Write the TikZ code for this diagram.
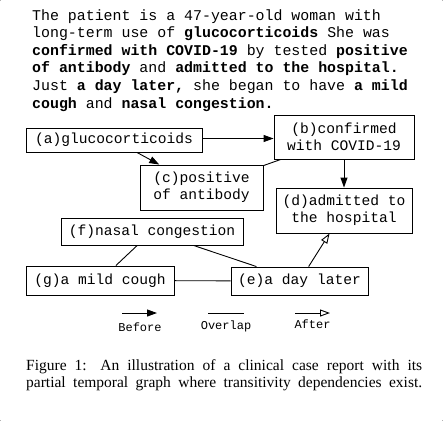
\documentclass[tikz,border=0pt]{standalone}
\usepackage{fontspec}
\setmonofont{Liberation Mono}
\newfontfamily\capfont{Liberation Serif}
\usetikzlibrary{arrows.meta}

\begin{document}
\begin{tikzpicture}[x=1pt,y=1pt,
  txt/.style={anchor=base west,inner sep=0pt,font=\fontsize{14.9}{17.6}\selectfont\ttfamily},
  evt/.style={draw,line width=0.9pt,align=center,inner sep=0pt,font=\fontsize{14.6}{17.2}\selectfont\ttfamily},
  beforearr/.style={line width=0.9pt,-{Triangle[length=10pt,width=7pt]}},
  overlapline/.style={line width=0.9pt},
  afterarr/.style={line width=0.9pt,-{Triangle[open,length=10pt,width=7pt]}},
  legtxt/.style={inner sep=0pt,font=\fontsize{12}{14}\selectfont\ttfamily},
  captxt/.style={anchor=base west,inner sep=0pt,font=\fontsize{15.5}{17}\selectfont\capfont}]
\useasboundingbox (0,0) rectangle (443,-421);
% page corners, so the margins are kept
\fill[black!30] (0,0) rectangle (1,-1);
\fill[black!30] (442,0) rectangle (443,-1);
\fill[black!30] (0,-420) rectangle (1,-421);
\fill[black!30] (442,-420) rectangle (443,-421);

\node[txt] at (32,-20) {The patient is a 47-year-old woman with};
\node[txt] at (32,-37.6) {long-term use of \textbf{glucocorticoids} She was};
\node[txt] at (32,-55.2) {\textbf{confirmed with COVID-19} by tested \textbf{positive}};
\node[txt] at (32,-72.8) {\textbf{of antibody} and \textbf{admitted to the hospital.}};
\node[txt] at (32,-90.4) {Just \textbf{a day later,} she began to have \textbf{a mild}};
\node[txt] at (32,-108) {\textbf{cough} and \textbf{nasal congestion.}};

\node[evt,minimum width=176pt,minimum height=24pt] (a) at (114,-140) {(a)glucocorticoids};
\node[evt,minimum width=140pt,minimum height=44pt] (b) at (344,-137) {(b)confirmed\\with COVID-19};
\node[evt,minimum width=123pt,minimum height=45pt] (c) at (201.5,-187.5) {(c)positive\\of antibody};
\node[evt,minimum width=136pt,minimum height=45pt] (d) at (344,-210.5) {(d)admitted to\\the hospital};
\node[evt,minimum width=182pt,minimum height=27pt] (f) at (152,-231.5) {(f)nasal congestion};
\node[evt,minimum width=148pt,minimum height=29pt] (g) at (100,-280.5) {(g)a mild cough};
\node[evt,minimum width=137pt,minimum height=28pt] (e) at (299.5,-281) {(e)a day later};

\draw[beforearr] (a.east |- 0,-138.5) -- (b.west |- 0,-138.5);
\draw[beforearr] (a) -- (c);
\draw[overlapline] (b) -- (c);
\draw[beforearr] (b) -- (d);
\draw[overlapline] (f) -- (g);
\draw[overlapline] (f) -- (e);
\draw[overlapline] (g) -- (e);
\draw[afterarr] (e) -- (d);

% legend
\coordinate (bf1) at (122,-313);
\coordinate (bf2) at (157,-313);
\coordinate (ov1) at (208,-313);
\coordinate (ov2) at (244,-313);
\coordinate (af1) at (295,-313);
\coordinate (af2) at (330,-313);
\draw[beforearr] (bf1) -- (bf2);
\draw[overlapline] (ov1) -- (ov2);
\draw[afterarr] (af1) -- (af2);
\node[legtxt] (bft) at (140,-327) {Before};
\node[legtxt] (ovt) at (226,-326) {Overlap};
\node[legtxt] (aft) at (312.5,-324) {After};

\node[captxt] (cap1) at (26,-370)
  {\makebox[396pt][s]{Figure 1: An illustration of a clinical case report with its}};
\node[captxt] (cap2) at (26,-387)
  {\makebox[396pt][s]{partial temporal graph where transitivity dependencies exist.}};
\end{tikzpicture}
\end{document}
